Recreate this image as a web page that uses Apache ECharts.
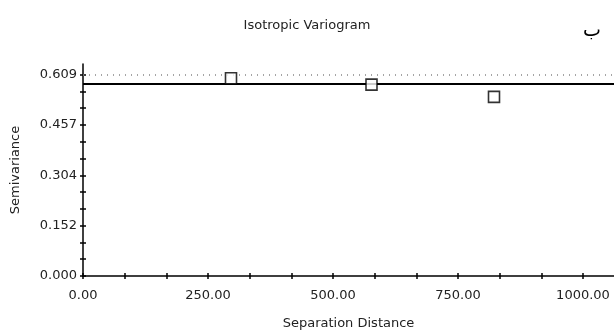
<!DOCTYPE html>
<html>
<head>
<meta charset="utf-8">
<script src="https://cdn.jsdelivr.net/npm/echarts@6/dist/echarts.min.js"></script>
<style>html,body{margin:0;padding:0;background:#fff}#c{width:614px;height:333px}</style>
</head>
<body>
<div id="c"></div>
<script>
var titleText = 'Isotropic Variogram';
var cornerMark = 'ب';
var xName = 'Separation Distance';
var yName = 'Semivariance';
var lagDistance = [296, 577, 822];
var semivariance = [0.598, 0.5785, 0.5416];
var sillValue = 0.5757;
var varianceRef = 0.609;
var xLabelValues = [0, 250, 500, 750, 1000];
var xTickValues = [0, 83.333, 166.667, 250, 333.333, 416.667, 500, 583.333, 666.667, 750, 833.333, 916.667, 1000];
var yLabelValues = [0, 0.152, 0.304, 0.457, 0.609];
var yTickValues = [0, 0.05075, 0.1015, 0.15225, 0.203, 0.25375, 0.3045, 0.35525, 0.406, 0.45675, 0.5075, 0.55825, 0.609];
var xMax = 1062, yMax = 0.641;

var font = 'DejaVu Sans';
var chart = echarts.init(document.getElementById('c'));
var baseX = {
  type: 'value', min: 0, max: xMax, position: 'bottom',
  splitLine: {show: false}
};
var baseY = {
  type: 'value', min: 0, max: yMax, position: 'left',
  splitLine: {show: false}
};
chart.setOption({
  animation: false,
  backgroundColor: '#fff',
  title: [
    {text: titleText, left: 'center', top: 14,
     textStyle: {fontFamily: font, fontSize: 13, fontWeight: 'normal', color: '#222'}},
    {text: cornerMark, left: 578, top: 17,
     textStyle: {fontFamily: font, fontSize: 19, fontWeight: 'normal', color: '#000'}}
  ],
  grid: {left: 83, right: 0, top: 64, bottom: 57, containLabel: false, outerBoundsMode: 'none'},
  xAxis: [
    Object.assign({}, baseX, {
      name: xName, nameLocation: 'middle', nameGap: 41,
      nameTextStyle: {fontFamily: font, fontSize: 13, color: '#222'},
      axisLine: {show: true, lineStyle: {color: '#000', width: 1.5}},
      axisTick: {show: true, inside: false, length: 3, customValues: xTickValues, lineStyle: {color: '#000', width: 1.5}},
      axisLabel: {show: true, customValues: xLabelValues, margin: 13,
        fontFamily: font, fontSize: 13, color: '#222',
        formatter: function (v) { return v.toFixed(2); }}
    }),
    Object.assign({}, baseX, {
      axisLine: {show: false},
      axisTick: {show: true, inside: true, length: 3, customValues: xTickValues, lineStyle: {color: '#000', width: 1.5}},
      axisLabel: {show: false}
    })
  ],
  yAxis: [
    Object.assign({}, baseY, {
      name: yName, nameLocation: 'middle', nameGap: 61,
      nameTextStyle: {fontFamily: font, fontSize: 13, color: '#222'},
      axisLine: {show: true, lineStyle: {color: '#000', width: 1.5}},
      axisTick: {show: true, inside: false, length: 3, customValues: yTickValues, lineStyle: {color: '#000', width: 1.5}},
      axisLabel: {show: true, customValues: yLabelValues, margin: 6,
        fontFamily: font, fontSize: 13, color: '#222',
        formatter: function (v) { return v.toFixed(3); }}
    }),
    Object.assign({}, baseY, {
      axisLine: {show: false},
      axisTick: {show: true, inside: true, length: 3, customValues: yTickValues, lineStyle: {color: '#000', width: 1.5}},
      axisLabel: {show: false}
    })
  ],
  series: [
    {
      type: 'scatter',
      xAxisIndex: 0, yAxisIndex: 0,
      data: lagDistance.map(function (x, i) { return [x, semivariance[i]]; }),
      symbol: 'rect', symbolSize: 11,
      itemStyle: {color: '#fff', borderColor: '#000', borderWidth: 1.6},
      z: 5,
      markLine: {
        silent: true, symbol: 'none', label: {show: false},
        data: [
          {yAxis: varianceRef, lineStyle: {color: '#888', type: [1, 5], width: 1.5}},
          {yAxis: sillValue, lineStyle: {color: '#000', type: 'solid', width: 1.8}}
        ]
      }
    }
  ]
});
</script>
</body>
</html>
